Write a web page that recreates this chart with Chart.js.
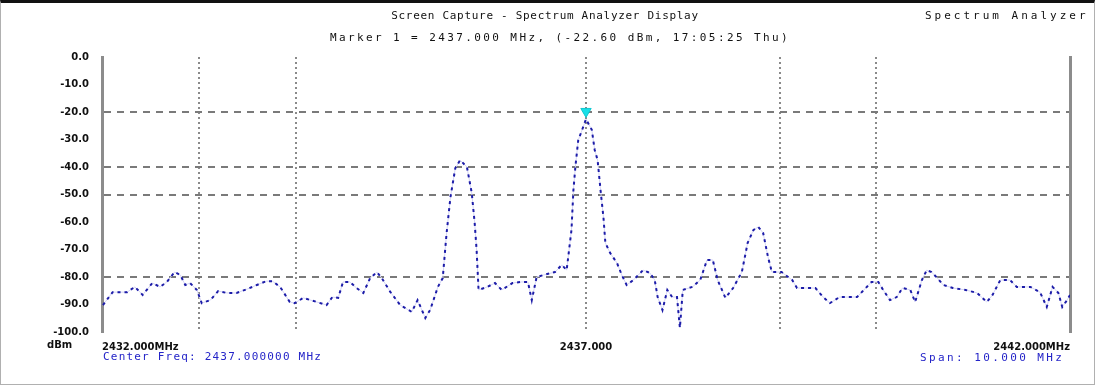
<!DOCTYPE html>
<html>
<head>
<meta charset="utf-8">
<script src="https://cdn.jsdelivr.net/npm/chart.js@4.4.1/dist/chart.umd.min.js"></script>
<style>
  html, body { margin: 0; padding: 0; background: #fff; }
  #wrap { position: relative; width: 1095px; height: 385px; overflow: hidden; }
  #chart { position: absolute; left: 0; top: 0; }
  .frame { position: absolute; left: 0; top: 0; width: 1095px; height: 385px; box-sizing: border-box;
           border: 1px solid #b0b0b0; border-top: 3px solid #111; pointer-events: none; }
  .t { position: absolute; white-space: nowrap; font-family: 'DejaVu Sans Mono', monospace; font-size: 11px; color: #111; }
  .blue { color: #2424c8; }
</style>
</head>
<body>
<div id="wrap">
  <canvas id="chart" width="1095" height="385"></canvas>
  <div class="t" id="title1" style="left:0;width:1090px;text-align:center;top:9px;letter-spacing:0.7px;">Screen Capture - Spectrum Analyzer Display</div>
  <div class="t" id="title2" style="left:0;width:1120px;text-align:center;top:31px;letter-spacing:2.4px;">Marker 1 = 2437.000 MHz, (-22.60 dBm, 17:05:25 Thu)</div>
  <div class="t" style="left:925px;top:9px;letter-spacing:3px;">Spectrum Analyzer</div>
  <div class="t" style="left:47px;top:339px;font-family:'DejaVu Sans';font-weight:bold;font-size:10px;">dBm</div>
  <div class="t blue" style="left:103px;top:350px;letter-spacing:1.2px;">Center Freq: 2437.000000 MHz</div>
  <div class="t blue" style="left:920px;top:351px;letter-spacing:2.4px;">Span: 10.000 MHz</div>
  <div class="frame"></div>
</div>
<script>
// ---------- Data ----------
// trace: frequency offset from start of span (MHz) and level (dBm)
const freqOffsetMHz = [
  0.01, 0.11, 0.26, 0.34, 0.42, 0.52, 0.60, 0.67, 0.75, 0.81,
  0.86, 0.91, 0.98, 1.03, 1.12, 1.20, 1.29, 1.39, 1.50, 1.60,
  1.70, 1.76, 1.84, 1.94, 1.99, 2.08, 2.22, 2.32, 2.38, 2.44,
  2.49, 2.56, 2.63, 2.70, 2.77, 2.84, 2.89, 2.98, 3.08, 3.20,
  3.26, 3.34, 3.39, 3.47, 3.52, 3.56, 3.60, 3.65, 3.70, 3.77,
  3.82, 3.85, 3.87, 3.89, 3.98, 4.06, 4.13, 4.24, 4.32, 4.40,
  4.44, 4.49, 4.56, 4.68, 4.75, 4.80, 4.85, 4.87, 4.89, 4.92,
  4.96, 5.00, 5.06, 5.09, 5.12, 5.15, 5.18, 5.20, 5.25, 5.32,
  5.37, 5.42, 5.49, 5.59, 5.66, 5.71, 5.74, 5.79, 5.84, 5.89,
  5.94, 5.97, 6.00, 6.10, 6.18, 6.25, 6.31, 6.36, 6.44, 6.52,
  6.61, 6.67, 6.73, 6.78, 6.83, 6.88, 6.92, 7.02, 7.13, 7.18,
  7.28, 7.37, 7.45, 7.52, 7.62, 7.80, 7.95, 8.02, 8.07, 8.14,
  8.21, 8.27, 8.35, 8.40, 8.47, 8.52, 8.57, 8.63, 8.69, 8.79,
  8.92, 9.04, 9.14, 9.20, 9.28, 9.38, 9.45, 9.59, 9.69, 9.76,
  9.82, 9.88, 9.92, 9.97, 10.00
];
const levelDbm = [
  -90.2, -85.5, -85.5, -83.6, -86.5, -82.2, -83.6, -81.8, -78.2, -79.3,
  -82.9, -82.2, -84.7, -89.5, -88.4, -85.1, -85.8, -85.8, -84.4, -82.9,
  -81.5, -81.5, -83.6, -89.1, -89.5, -87.6, -89.1, -90.2, -87.3, -87.6,
  -81.8, -81.8, -84.0, -85.8, -80.4, -78.2, -80.4, -85.5, -90.2, -92.7,
  -88.4, -94.9, -92.0, -83.6, -80.4, -64.0, -50.9, -40.4, -37.5, -40.0,
  -49.5, -60.4, -70.2, -84.7, -83.6, -82.2, -84.7, -82.2, -81.8, -81.8,
  -88.4, -80.0, -79.3, -78.2, -75.6, -77.5, -62.9, -48.4, -40.0, -30.2,
  -26.5, -22.6, -26.5, -33.8, -37.5, -48.4, -58.2, -67.6, -71.3, -74.9,
  -79.3, -82.9, -81.1, -77.5, -78.5, -81.1, -87.3, -92.0, -84.7, -87.3,
  -87.3, -98.5, -84.7, -83.6, -81.1, -73.8, -73.8, -81.1, -87.6, -84.0,
  -78.2, -67.6, -62.9, -61.8, -64.0, -72.7, -78.2, -78.2, -81.1, -84.0,
  -84.0, -84.0, -87.3, -89.5, -87.3, -87.3, -81.8, -81.8, -84.7, -88.4,
  -87.3, -84.0, -84.7, -89.1, -81.1, -77.5, -78.2, -80.4, -82.9, -84.0,
  -84.7, -85.8, -89.1, -86.5, -81.1, -81.1, -83.6, -83.6, -85.5, -90.9,
  -83.6, -85.8, -90.9, -88.4, -86.5
];

// marker (cyan) at the peak
const markerOffsetMHz = [5.0];
const markerDbm = [-19.8];

// axes
const yTickValues = [0, -10, -20, -30, -40, -50, -60, -70, -80, -90, -100];
const yTickLabels = ['0.0', '-10.0', '-20.0', '-30.0', '-40.0', '-50.0', '-60.0', '-70.0', '-80.0', '-90.0', '-100.0'];
const xDivisions = [0, 1, 2, 3, 4, 5, 6, 7, 8, 9, 10];
const xTickValues = [0, 5, 10];
const xTickLabels = ['2432.000MHz', '2437.000', '2442.000MHz'];
// grid lines that show in the picture
const gridYValues = [-20, -40, -50, -80];
const gridXValues = [1, 2, 5, 7, 8];

// ---------- Chart ----------
const trace = freqOffsetMHz.map((f, i) => ({ x: f, y: levelDbm[i] }));
const marker = markerOffsetMHz.map((f, i) => ({ x: f, y: markerDbm[i] }));

const tickFont = { family: 'DejaVu Sans', size: 10, weight: 'bold' };

new Chart(document.getElementById('chart').getContext('2d'), {
  type: 'scatter',
  data: {
    datasets: [
      {
        label: 'Marker',
        data: marker,
        pointStyle: 'triangle',
        rotation: 180,
        radius: 6,
        backgroundColor: '#18e0e8',
        borderColor: '#10c8d0',
        borderWidth: 1,
        showLine: false
      },
      {
        label: 'Trace',
        data: trace,
        showLine: true,
        borderColor: '#1c1ca8',
        borderWidth: 2,
        borderDash: [3, 4],
        pointRadius: 0,
        tension: 0
      },
      {
        label: 'Trace (under)',
        data: trace,
        showLine: true,
        borderColor: '#d4d4f6',
        borderWidth: 1,
        pointRadius: 0,
        tension: 0
      }
    ]
  },
  options: {
    responsive: false,
    animation: false,
    layout: { padding: { top: 57, left: 0, right: 0, bottom: 0 } },
    plugins: { legend: { display: false }, tooltip: { enabled: false } },
    scales: {
      x: {
        type: 'linear',
        min: 0,
        max: 10,
        afterBuildTicks: (s) => { s.ticks = xDivisions.map(v => ({ value: v })); },
        afterFit: (s) => { s.height = 53; },
        ticks: {
          autoSkip: false,
          maxRotation: 0,
          align: 'inner',
          padding: 9,
          color: '#111',
          font: tickFont,
          callback: (v) => {
            const k = xTickValues.indexOf(v);
            return k >= 0 ? xTickLabels[k] : '';
          }
        },
        grid: {
          drawTicks: false,
          lineWidth: 2,
          color: (ctx) => (ctx.tick && gridXValues.includes(ctx.tick.value)) ? '#8a8a8a' : 'rgba(0,0,0,0)'
        },
        border: { display: false, dash: [2, 3] }
      },
      y: {
        min: -100,
        max: 0,
        afterBuildTicks: (s) => { s.ticks = yTickValues.map(v => ({ value: v })); },
        afterFit: (s) => { s.width = 102; },
        ticks: {
          padding: 13,
          color: '#111',
          font: tickFont,
          callback: (v) => yTickLabels[yTickValues.indexOf(v)]
        },
        grid: {
          drawTicks: false,
          lineWidth: 2,
          color: (ctx) => (ctx.tick && gridYValues.includes(ctx.tick.value)) ? '#7a7a7a' : 'rgba(0,0,0,0)'
        },
        border: { display: true, color: '#8c8c8c', width: 3, dash: [7, 6] }
      },
      yR: {
        position: 'right',
        min: -100,
        max: 0,
        afterFit: (s) => { s.width = 25; },
        ticks: { display: false },
        grid: { display: false },
        border: { display: true, color: '#8c8c8c', width: 3 }
      }
    }
  }
});
</script>
</body>
</html>
